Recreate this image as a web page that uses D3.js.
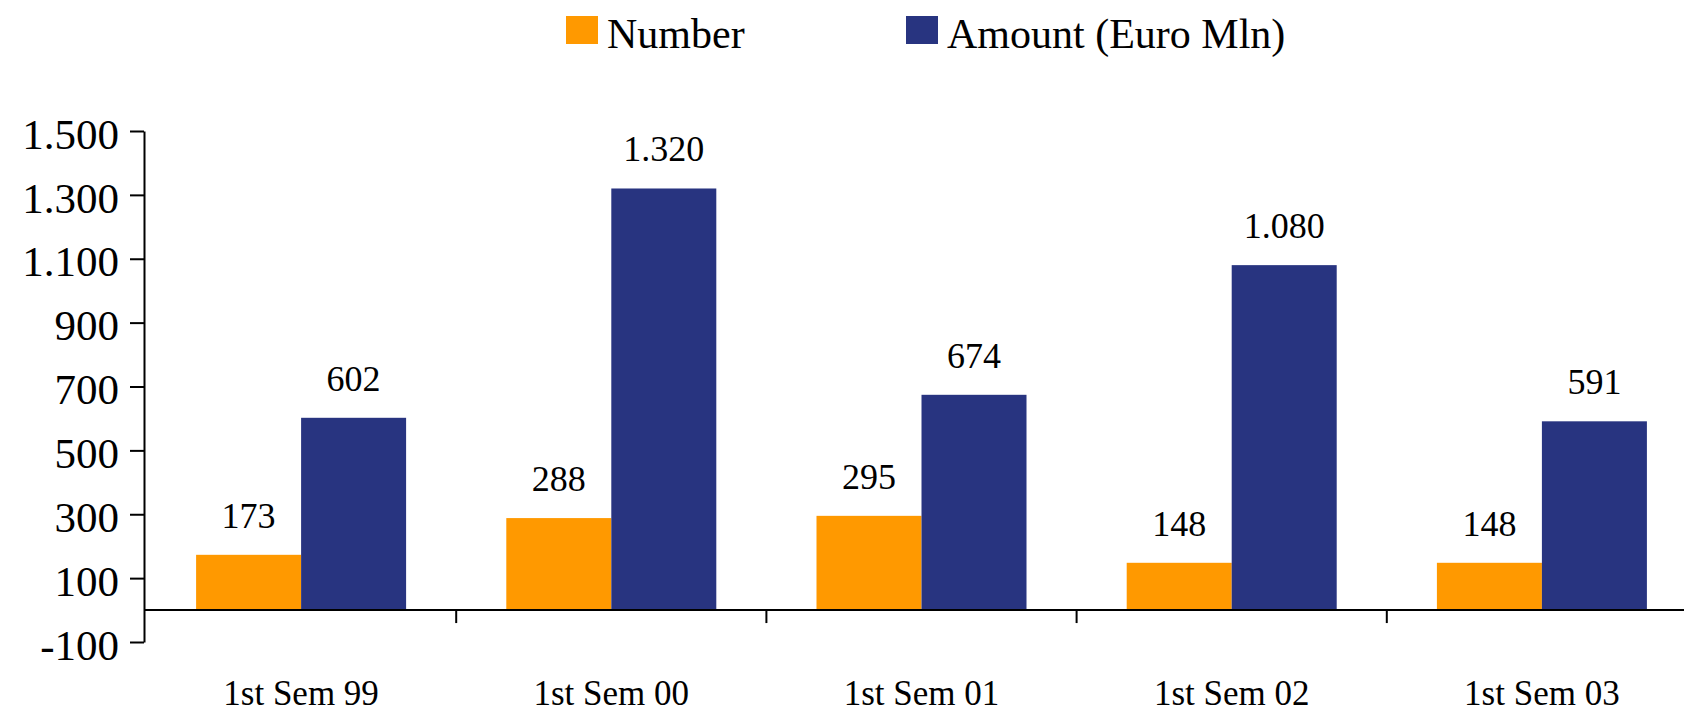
<!DOCTYPE html>
<html>
<head>
<meta charset="utf-8">
<script src="https://cdn.jsdelivr.net/npm/d3@7"></script>
<style>
  body { margin: 0; background: #fff; }
  svg { display: block; font-family: "Liberation Serif", "Times New Roman", serif; }
  .axis path, .axis line { stroke: #000; stroke-width: 2; }
  .axis text { fill: #000; }
</style>
</head>
<body>
<svg id="chart"></svg>
<script>
const categories = ["1st Sem 99", "1st Sem 00", "1st Sem 01", "1st Sem 02", "1st Sem 03"];
const numberValues = [173, 288, 295, 148, 148];
const amountValues = [602, 1320, 674, 1080, 591];
const seriesNames = ["Number", "Amount (Euro Mln)"];
const seriesColors = ["#FF9900", "#283480"];
const yTicks = [-100, 100, 300, 500, 700, 900, 1100, 1300, 1500];

// Italian style number format: 1.320, plain hyphen for negatives
const itFormat = d3.formatLocale({ decimal: ",", thousands: ".", grouping: [3], currency: ["", "€"], minus: "-" }).format(",d");

const width = 1684;
const height = 714;

const svg = d3.select("#chart").attr("width", width).attr("height", height);

// rows built from the arrays above
const data = categories.map((c, i) => ({
  cat: c,
  values: [
    { key: seriesNames[0], value: numberValues[i] },
    { key: seriesNames[1], value: amountValues[i] },
  ],
}));

// Scales - plot runs past the right edge like the original picture
const x0 = d3.scaleBand().domain(categories).range([146, 1697]).paddingInner(0.323).paddingOuter(0.1615);
const x1 = d3.scaleBand().domain(seriesNames).range([0, x0.bandwidth()]);
const y = d3.scaleLinear().domain([-100, 1500]).range([642, 131]);
const color = d3.scaleOrdinal().domain(seriesNames).range(seriesColors);

// Y axis
const yAxis = d3.axisLeft(y)
  .tickValues(yTicks)
  .tickFormat(itFormat)
  .tickSize(14)
  .tickSizeOuter(0)
  .tickPadding(11);

const yAxisG = svg.append("g")
  .attr("class", "axis y-axis")
  .attr("transform", "translate(144,0)")
  .call(yAxis);

yAxisG.selectAll("text")
  .style("font-size", "43px")
  .style("font-family", "'Liberation Serif', 'Times New Roman', serif")
  .attr("dy", "0.4em");

// Bars
const groups = svg.append("g")
  .selectAll("g")
  .data(data)
  .join("g")
  .attr("transform", (d) => `translate(${x0(d.cat)},0)`);

groups.selectAll("rect")
  .data((d) => d.values)
  .join("rect")
  .attr("x", (d) => x1(d.key))
  .attr("width", x1.bandwidth())
  .attr("y", (d) => y(Math.max(0, d.value)))
  .attr("height", (d) => Math.abs(y(d.value) - y(0)))
  .attr("fill", (d) => color(d.key));

// Value labels above bars
groups.selectAll("text")
  .data((d) => d.values)
  .join("text")
  .attr("x", (d) => x1(d.key) + x1.bandwidth() / 2)
  .attr("y", (d) => y(d.value) - 27)
  .attr("text-anchor", "middle")
  .style("font-size", "36px")
  .text((d) => itFormat(d.value));

// X axis: zero line with ticks between categories
const step = x0.step();
const boundaries = categories.slice(1).map((c) => x0(c) - (step - x0.bandwidth()) / 2);

const xAxisG = svg.append("g").attr("class", "axis x-axis");

xAxisG.append("line")
  .attr("x1", 144)
  .attr("x2", width)
  .attr("y1", y(0))
  .attr("y2", y(0));

xAxisG.selectAll(".tick-line")
  .data(boundaries)
  .join("line")
  .attr("class", "tick-line")
  .attr("x1", (d) => d)
  .attr("x2", (d) => d)
  .attr("y1", y(0))
  .attr("y2", y(0) + 13);

xAxisG.selectAll(".cat-label")
  .data(categories)
  .join("text")
  .attr("class", "cat-label")
  .attr("x", (d) => x0(d) + x0.bandwidth() / 2)
  .attr("y", 705)
  .attr("text-anchor", "middle")
  .style("font-size", "35px")
  .text((d) => d);

// Legend
const legendX = [566, 906];
const legend = svg.append("g")
  .selectAll("g")
  .data(seriesNames)
  .join("g")
  .attr("transform", (d, i) => `translate(${legendX[i]},0)`);

legend.append("rect")
  .attr("x", 0)
  .attr("y", 16)
  .attr("width", 32)
  .attr("height", 28)
  .attr("fill", (d) => color(d));

legend.append("text")
  .attr("x", 41)
  .attr("y", 48)
  .style("font-size", "42px")
  .text((d) => d);
</script>
</body>
</html>
